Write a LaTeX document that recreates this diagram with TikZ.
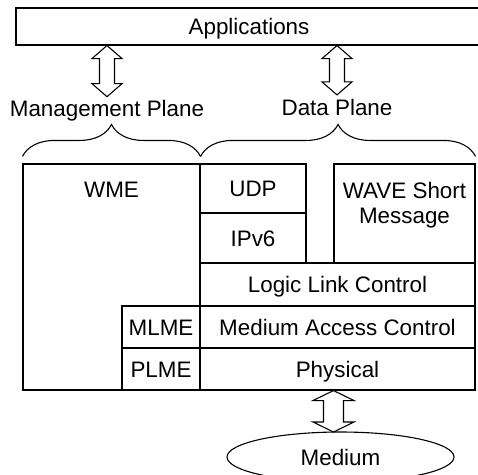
\documentclass[tikz,border=0pt]{standalone}
\usepackage{fontspec}
\setmainfont{Liberation Sans}
\usetikzlibrary{positioning, calc, shapes.geometric, decorations.pathreplacing}

\tikzset{
  every node/.style={font=\fontsize{22.4}{25}\selectfont},
  stackbox/.style={draw, rectangle, inner sep=0pt, text height=16pt, text depth=0pt},
  toptext/.style={inner sep=0pt, align=center},
}

% hollow up-down arrow: top, bottom, half shaft, half head, head length
\newcommand{\hollowarrow}[5]{%
  \draw (#1) -- ++(#4,#5) -- ++(-#4+#3,0) -- ($(#2)+(#3,-#5)$) -- ++(#4-#3,0) -- (#2)
    -- ++(-#4,-#5) -- ++(#4-#3,0) -- ($(#1)+(-#3,#5)$) -- ++(-#4+#3,0) -- cycle;}

\begin{document}
\begin{tikzpicture}[x=1pt, y=-1pt, line width=1.1pt]
  \useasboundingbox (0,0) rectangle (478,474);

  % Applications (runs off the right edge)
  \node[stackbox, minimum width=466pt, minimum height=37pt] (app) at (249,26.5) {Applications};

  % Planes
  \node (mgmt) at (107,111) {Management Plane};
  \node (data) at (337,107) {Data Plane};
  \hollowarrow{app.south -| mgmt}{mgmt.north}{7.5}{15}{13}
  \hollowarrow{app.south -| data}{data.north}{7.5}{15}{13}

  % Protocol stack
  \node[stackbox, minimum width=177pt, minimum height=226pt] (wme) at (111.5,277) {};
  \node[toptext, below=18pt of wme.north] (wmetext) {WME};
  \node[stackbox, minimum width=106pt, minimum height=49pt] (udp) at (253,188.5) {UDP};
  \node[stackbox, minimum width=106pt, minimum height=50pt] (ipv6) at (253,238) {IPv6};
  \node[stackbox, minimum width=141pt, minimum height=99pt] (wsm) at (404.5,213.5) {};
  \node[toptext, below=18pt of wsm.north] (wsmtext) {WAVE Short\\Message};
  \node[stackbox, minimum width=275pt, minimum height=43pt] (llc) at (337.5,284.5) {Logic Link Control};
  \node[stackbox, minimum width=275pt, minimum height=42pt] (mac) at (337.5,327) {Medium Access Control};
  \node[stackbox, minimum width=275pt, minimum height=42pt] (phy) at (337.5,369) {Physical};
  \node[stackbox, minimum width=78pt, minimum height=42pt] (mlme) at (161,327) {MLME};
  \node[stackbox, minimum width=78pt, minimum height=42pt] (plme) at (161,369) {PLME};

  % Braces under the plane labels
  \draw[decorate, decoration={brace, amplitude=32pt}]
    ([yshift=7pt]wme.north west) -- ([yshift=7pt]wme.north east);
  \draw[decorate, decoration={brace, amplitude=32pt}]
    ([yshift=7pt]wme.north east) -- ([yshift=7pt]wsm.north east);

  % Medium
  \node[draw, ellipse, minimum width=227pt, minimum height=50pt, inner sep=0pt] (medium) at (340.5,457) {Medium};
  \coordinate (medtop) at (333.5,432);
  \hollowarrow{phy.south -| medtop}{medtop}{10}{20.5}{10}
\end{tikzpicture}
\end{document}
